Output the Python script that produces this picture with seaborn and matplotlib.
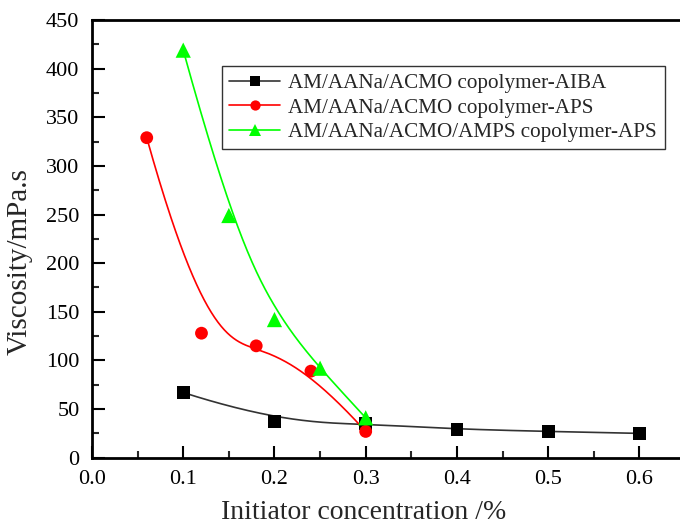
import numpy as np
import pandas as pd
import matplotlib
matplotlib.use("Agg")
import matplotlib.pyplot as plt
from matplotlib.lines import Line2D
from matplotlib.ticker import MultipleLocator
import seaborn as sns

# Viscosity vs. initiator concentration for three copolymer systems
aiba_x = [0.1, 0.2, 0.3, 0.4, 0.5, 0.6]
aiba_y = [67, 37, 35, 29, 27, 25]

aps_x = [0.06, 0.12, 0.18, 0.24, 0.30]
aps_y = [329, 128, 115, 89, 27]

amps_x = [0.10, 0.15, 0.20, 0.25, 0.30]
amps_y = [419, 249, 142, 92, 41]

labels = [
    "AM/AANa/ACMO copolymer-AIBA",
    "AM/AANa/ACMO copolymer-APS",
    "AM/AANa/ACMO/AMPS copolymer-APS",
]
colors = ["#000000", "#FF0000", "#00FF00"]
markers = ["s", "o", "^"]
marker_sizes = [85, 85, 120]

x_ticks = [0.0, 0.1, 0.2, 0.3, 0.4, 0.5, 0.6]
y_ticks = [0, 50, 100, 150, 200, 250, 300, 350, 400, 450]


def bspline(xs, ys, n=300, degree=3):
    """Clamped uniform B-spline using the data points as control points."""
    P = np.column_stack([xs, ys]).astype(float)
    m = len(P)
    k = min(degree, m - 1)
    inner = np.linspace(0, 1, m - k + 1)[1:-1]
    t = np.concatenate([np.zeros(k + 1), inner, np.ones(k + 1)])
    u = np.linspace(0, 1, n)
    u[-1] = 1 - 1e-12
    # Cox-de Boor recursion
    N = np.zeros((n, len(t) - 1))
    for i in range(len(t) - 1):
        N[:, i] = np.where((u >= t[i]) & (u < t[i + 1]), 1.0, 0.0)
    for d in range(1, k + 1):
        Nn = np.zeros((n, len(t) - 1 - d))
        for i in range(len(t) - 1 - d):
            a = 0.0
            b = 0.0
            den1 = t[i + d] - t[i]
            den2 = t[i + d + 1] - t[i + 1]
            if den1 > 0:
                a = (u - t[i]) / den1 * N[:, i]
            if den2 > 0:
                b = (t[i + d + 1] - u) / den2 * N[:, i + 1]
            Nn[:, i] = a + b
        N = Nn
    C = N @ P
    return C[:, 0], C[:, 1]


sns.set_theme(style="ticks")
plt.rcParams["font.family"] = ["Liberation Serif", "DejaVu Serif"]

fig = plt.figure(figsize=(6.8, 5.24), dpi=100)
ax = fig.add_axes([92 / 680, 66.3 / 524, 593 / 680, 437.7 / 524])

series = [(aiba_x, aiba_y), (aps_x, aps_y), (amps_x, amps_y)]
line_colors = ["#333333", "#FF0000", "#00FF00"]
for (xs, ys), c, lc, mk, ms in zip(series, colors, line_colors, markers, marker_sizes):
    cx, cy = bspline(xs, ys)
    curve = pd.DataFrame({"x": cx, "y": cy})
    sns.lineplot(data=curve, x="x", y="y", sort=False, color=lc, lw=1.2,
                 ax=ax, zorder=2)
    pts = pd.DataFrame({"x": xs, "y": ys})
    sns.scatterplot(data=pts, x="x", y="y", color=c, marker=mk, s=ms,
                    edgecolor="none", linewidth=0, ax=ax, zorder=3)

ax.set_xlim(0.0, 0.65)
ax.set_ylim(0, 450)
ax.set_xticks(x_ticks)
ax.set_xticklabels([f"{v:.1f}" for v in x_ticks])
ax.set_yticks(y_ticks)
ax.set_yticklabels([str(v) for v in y_ticks])
ax.xaxis.set_minor_locator(MultipleLocator(0.05))
ax.yaxis.set_minor_locator(MultipleLocator(25))

ax.tick_params(axis="both", which="major", direction="in", length=9, width=1.5,
               labelsize=16, colors="black", top=False, right=False)
ax.tick_params(axis="x", which="major", pad=9)
ax.tick_params(axis="y", which="major", pad=9)
ax.tick_params(axis="both", which="minor", direction="in", length=5, width=1.5,
               top=False, right=False)
for side in ["left", "bottom", "top", "right"]:
    ax.spines[side].set_linewidth(2)
    ax.spines[side].set_color("black")

ax.set_xlabel("Initiator concentration /%", fontsize=20, va="baseline")
ax.xaxis.set_label_coords((364 - 92) / 593, (457.7 - 519) / 437.7)
ax.set_ylabel("Viscosity/mPa.s", fontsize=21, va="center")
ax.yaxis.set_label_coords((20 - 92) / 593, (457.7 - 262) / 437.7)

handles = [
    Line2D([], [], color=lc, marker=mk, markersize=ms ** 0.5 * 0.8, lw=1.2,
           markeredgewidth=0, markerfacecolor=c)
    for c, lc, mk, ms in zip(colors, line_colors, markers, marker_sizes)
]
leg = ax.legend(handles, labels, loc="upper left",
                bbox_to_anchor=(130 / 593, 1 - 46 / 437.7),
                fontsize=15.2, frameon=True, fancybox=False, edgecolor="black",
                handlelength=2.4, handletextpad=0.4, labelspacing=0.22,
                borderpad=0.35, borderaxespad=0)
leg.get_frame().set_linewidth(1.0)

fig.savefig("out.png", dpi=100)
